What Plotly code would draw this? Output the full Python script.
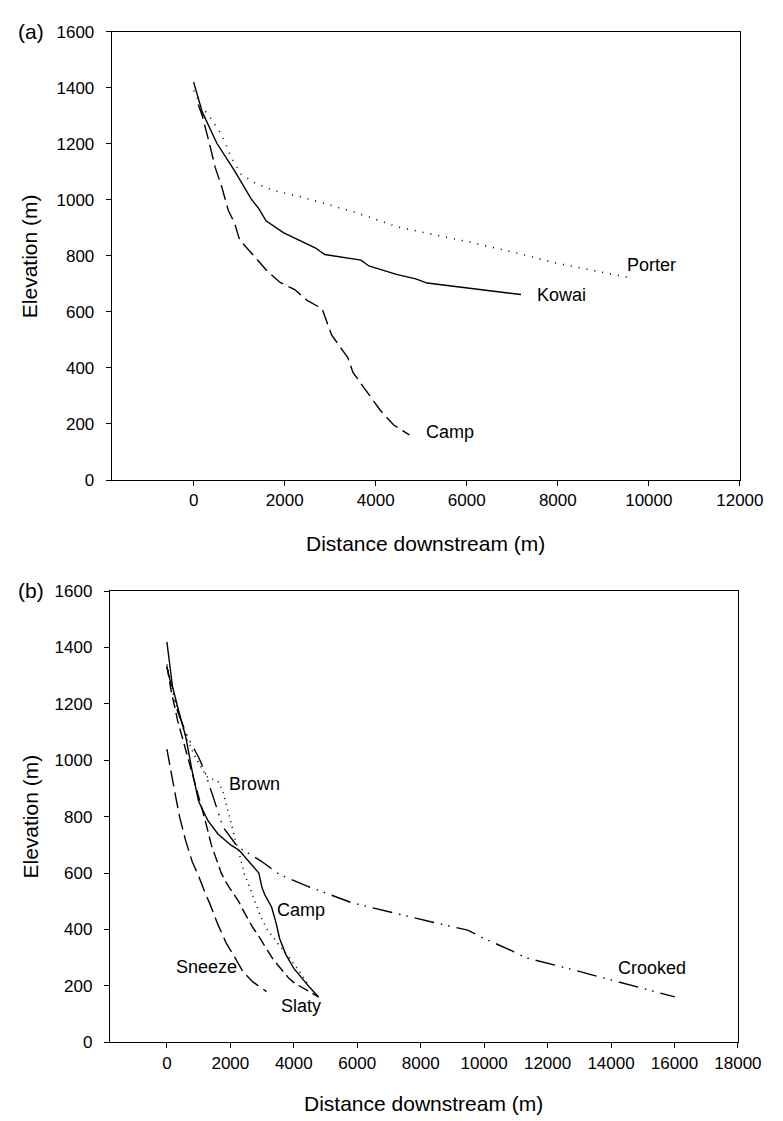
import plotly.graph_objects as go

# ---------------- Panel (a) data ----------------
kowai_x = [0, 190, 510, 900, 1260, 1435, 1590, 1970, 2680, 2880, 3675, 3850, 4455, 4880, 5130, 7190]
kowai_y = [1420, 1313, 1202, 1103, 1004, 968, 925, 883, 828, 805, 785, 764, 734, 718, 703, 662]

porter_x = [0, 156, 335, 618, 831, 1045, 1328, 1755, 2324, 3035, 3746, 4456, 4950, 6160, 7230, 7940, 8650, 9570]
porter_y = [1390, 1337, 1300, 1232, 1150, 1091, 1062, 1033, 1012, 980, 945, 904, 887, 846, 805, 775, 752, 723]

campa_x = [100, 190, 335, 475, 620, 760, 900, 1010, 1330, 1615, 1900, 2220, 2500, 2820, 3030, 3390, 3500, 3780, 4100, 4390, 4740]
campa_y = [1340, 1300, 1208, 1115, 1045, 963, 916, 857, 799, 746, 705, 680, 640, 612, 518, 436, 384, 319, 249, 197, 161]

# ---------------- Panel (b) data ----------------
campb_x = [0, 180, 390, 590, 800, 1000, 1300, 1610, 2020, 2280, 2630, 2900, 3000, 3100, 3300, 3450, 3550, 3750, 4000, 4270, 4500, 4780]
campb_y = [1420, 1260, 1167, 1086, 960, 855, 785, 739, 699, 681, 635, 600, 548, 520, 480, 420, 369, 311, 262, 225, 195, 161]

slaty_x = [0, 130, 340, 590, 800, 1000, 1200, 1400, 1715, 1870, 2280, 2380, 2690, 2840, 3200, 3350, 3860, 4060, 4500, 4780]
slaty_y = [1335, 1249, 1140, 1040, 950, 870, 790, 700, 600, 566, 496, 473, 410, 386, 323, 294, 225, 207, 180, 161]

sneeze_x = [0, 120, 235, 400, 590, 800, 1000, 1200, 1360, 1600, 1870, 2120, 2400, 2700, 3140]
sneeze_y = [1040, 960, 896, 800, 716, 640, 590, 531, 490, 420, 352, 305, 250, 215, 180]

brown_x = [0, 300, 590, 900, 1256, 1613, 1767, 1920, 2072, 2175, 2308, 2430, 2634, 2940, 3144, 3451, 3860, 4166, 4472]
brown_y = [1340, 1190, 1086, 1010, 942, 924, 890, 820, 751, 711, 658, 600, 543, 450, 404, 357, 300, 253, 201]

crooked_x = [0, 340, 640, 1000, 1200, 1400, 1770, 2230, 2330, 2990, 3550, 4420, 4980, 5800, 6410, 7230, 7790, 8560, 9480, 9990, 10900, 11310, 12740, 14070, 15600, 16010]
crooked_y = [1330, 1173, 1086, 1011, 959, 890, 763, 693, 687, 641, 595, 554, 531, 496, 479, 456, 441, 421, 398, 369, 323, 300, 259, 219, 173, 161]

ytick_vals = [0, 200, 400, 600, 800, 1000, 1200, 1400, 1600]
xtick_a = [0, 2000, 4000, 6000, 8000, 10000, 12000]
xtick_b = [0, 2000, 4000, 6000, 8000, 10000, 12000, 14000, 16000, 18000]

labels_a = [("Porter", 9480, 768), ("Kowai", 7500, 660), ("Camp", 5070, 172)]
labels_b = [("Brown", 1900, 916), ("Camp", 3400, 469), ("Sneeze", 230, 267),
            ("Slaty", 3520, 128), ("Crooked", 14150, 264)]

W, H = 783, 1121
FONT = "Liberation Sans, Arial, sans-serif"

fig = go.Figure()

def line(x, y, dash, xa, ya, width=1.4):
    fig.add_trace(go.Scatter(x=x, y=y, mode="lines", xaxis=xa, yaxis=ya,
                             line=dict(color="black", width=width, dash=dash),
                             showlegend=False, hoverinfo="skip"))

# Panel a
line(porter_x, porter_y, "1px,7px", "x", "y", 1.6)
line(kowai_x, kowai_y, "solid", "x", "y")
line(campa_x, campa_y, "15px,6px", "x", "y")
# Panel b
line(sneeze_x, sneeze_y, "16px,6px", "x2", "y2")
line(slaty_x, slaty_y, "11px,5px", "x2", "y2")
line(brown_x, brown_y, "1px,5px", "x2", "y2", 1.6)
line(campb_x, campb_y, "solid", "x2", "y2")
line(crooked_x, crooked_y, "20px,7px,1.5px,6px,1.5px,7px", "x2", "y2")

def px_x(p):
    return p / W

def px_y(p):
    return 1 - p / H

axis_common = dict(showline=True, linecolor="black", linewidth=1, mirror=True,
                   ticks="outside", ticklen=5, tickcolor="black", tickwidth=1,
                   showgrid=False, zeroline=False,
                   tickfont=dict(family=FONT, size=17, color="black"))

fig.update_layout(
    width=W, height=H, margin=dict(l=0, r=0, t=0, b=0),
    paper_bgcolor="white", plot_bgcolor="white",
    xaxis=dict(domain=[px_x(107), px_x(755)], range=[-1800, 12000], anchor="y",
               tickvals=xtick_a, ticktext=[str(v) for v in xtick_a], **axis_common),
    yaxis=dict(domain=[px_y(471), px_y(15)], range=[0, 1600], anchor="x",
               tickvals=ytick_vals, ticklabelstandoff=8, **axis_common),
    xaxis2=dict(domain=[px_x(105), px_x(753)], range=[-1800, 18000], anchor="y2",
                tickvals=xtick_b, ticktext=[str(v) for v in xtick_b], **axis_common),
    yaxis2=dict(domain=[px_y(1043), px_y(584)], range=[0, 1600], anchor="x2",
                tickvals=ytick_vals, ticklabelstandoff=8, **axis_common),
)

ann = []
for t, x, y in labels_a:
    ann.append(dict(text=t, x=x, y=y, xref="x", yref="y", xanchor="left", yanchor="middle",
                    showarrow=False, font=dict(family=FONT, size=18, color="black")))
for t, x, y in labels_b:
    ann.append(dict(text=t, x=x, y=y, xref="x2", yref="y2", xanchor="left", yanchor="middle",
                    showarrow=False, font=dict(family=FONT, size=18, color="black")))

title_font = dict(family=FONT, size=21, color="black")
ann += [
    dict(text="(a)", x=px_x(8), y=px_y(15), xref="paper", yref="paper", xanchor="left",
         yanchor="middle", showarrow=False, font=title_font),
    dict(text="(b)", x=px_x(8), y=px_y(583), xref="paper", yref="paper", xanchor="left",
         yanchor="middle", showarrow=False, font=title_font),
    dict(text="Distance downstream (m)", x=px_x(431), y=px_y(536), xref="paper", yref="paper",
         xanchor="center", yanchor="middle", showarrow=False, font=title_font),
    dict(text="Distance downstream (m)", x=px_x(429), y=px_y(1105), xref="paper", yref="paper",
         xanchor="center", yanchor="middle", showarrow=False, font=title_font),
    dict(text="Elevation (m)", x=px_x(23), y=px_y(243), xref="paper", yref="paper",
         xanchor="center", yanchor="middle", textangle=-90, showarrow=False, font=title_font),
    dict(text="Elevation (m)", x=px_x(23), y=px_y(813), xref="paper", yref="paper",
         xanchor="center", yanchor="middle", textangle=-90, showarrow=False, font=title_font),
]
fig.update_layout(annotations=ann)

fig.write_html("out.html")
